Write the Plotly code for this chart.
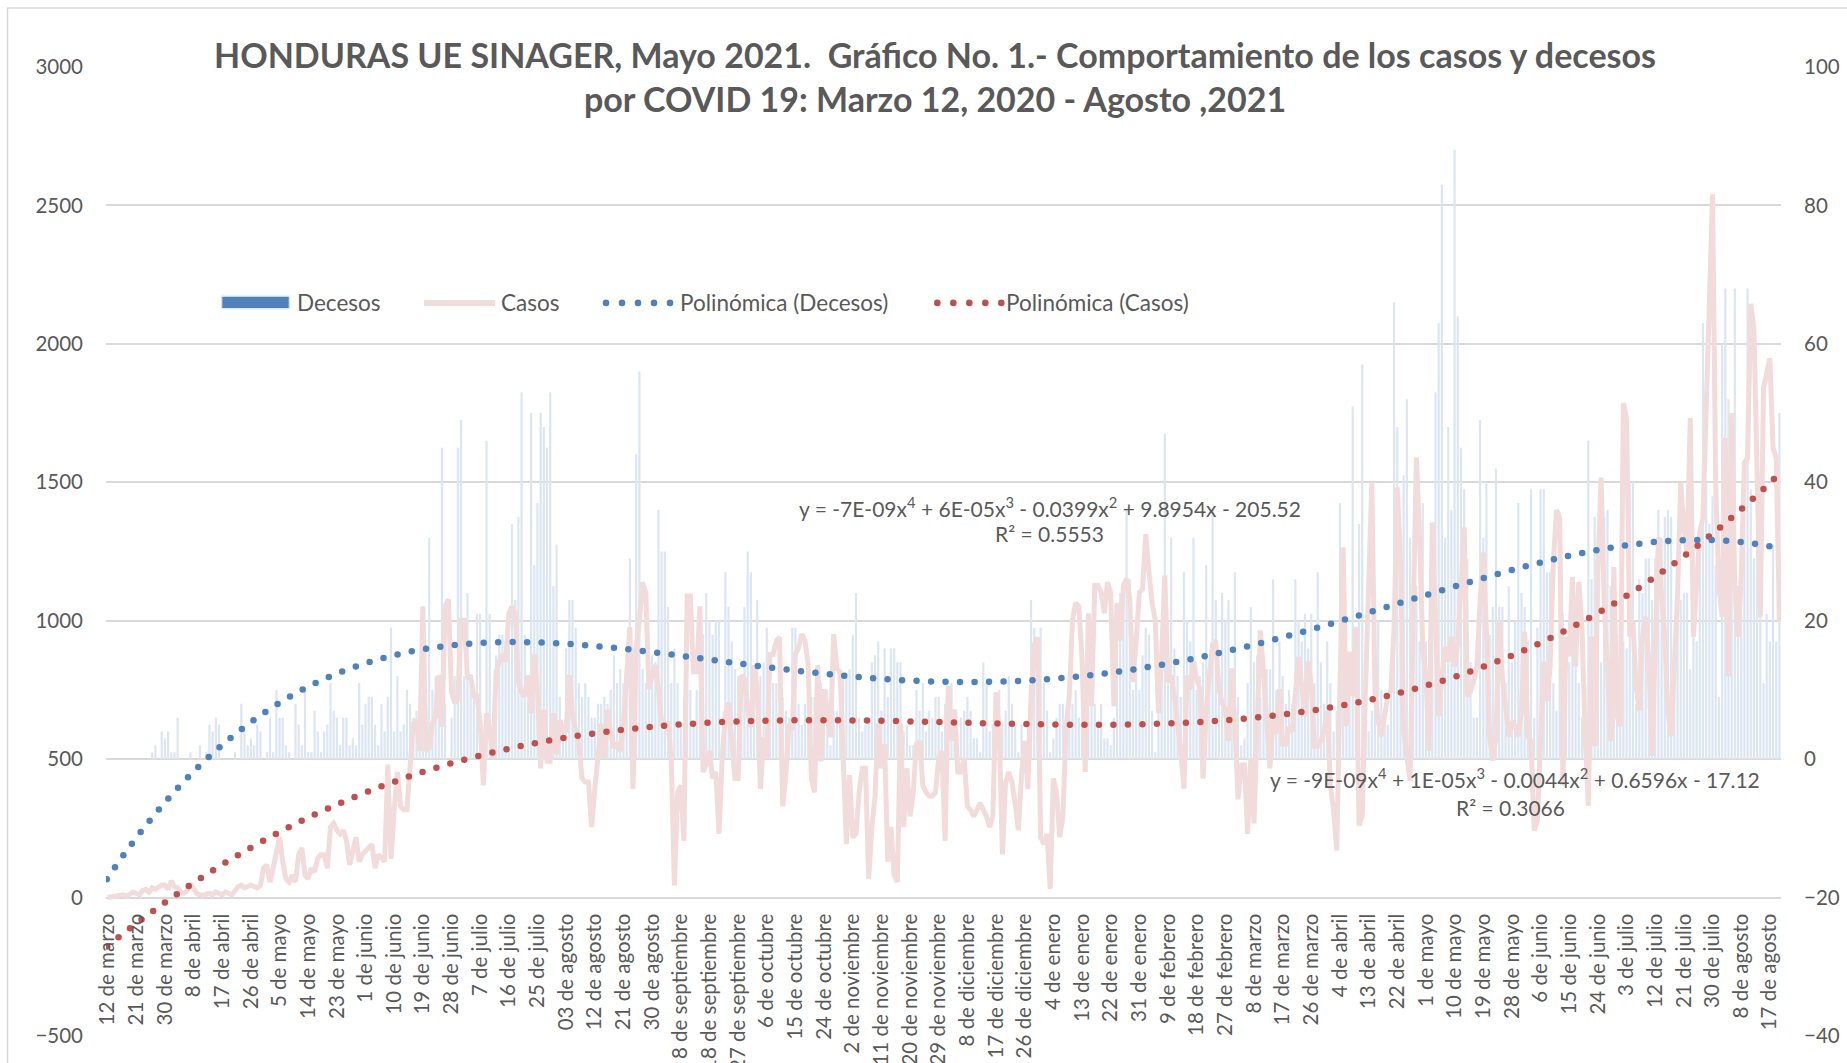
import numpy as np
import plotly.graph_objects as go

tick_labels = [
    "12 de marzo", "21 de marzo", "30 de marzo", "8 de abril", "17 de abril", "26 de abril",
    "5 de mayo", "14 de mayo", "23 de mayo", "1 de junio", "10 de junio", "19 de junio",
    "28 de junio", "7 de julio", "16 de julio", "25 de julio", "03 de agosto", "12 de agosto",
    "21 de agosto", "30 de agosto", "8 de septiembre", "18 de septiembre", "27 de septiembre",
    "6 de octubre", "15 de octubre", "24 de octubre", "2 de noviembre", "11 de noviembre",
    "20 de noviembre", "29 de noviembre", "8 de diciembre", "17 de diciembre", "26 de diciembre",
    "4 de enero", "13 de enero", "22 de enero", "31 de enero", "9 de febrero", "18 de febrero",
    "27 de febrero", "8 de marzo", "17 de marzo", "26 de marzo", "4 de abril", "13 de abril",
    "22 de abril", "1 de mayo", "10 de mayo", "19 de mayo", "28 de mayo", "6 de junio",
    "15 de junio", "24 de junio", "3 de julio", "12 de julio", "21 de julio", "30 de julio",
    "8 de agosto", "17 de agosto",
]

casos = [
    0, 2, 5, 3, 8, 10, 5, 12, 20, 15,
    10, 25, 30, 20, 35, 30, 40, 45, 45, 30,
    60, 40, 35, 20, 15, 25, 50, 30, 15, 10,
    8, 12, 15, 10, 20, 15, 10, 20, 15, 10,
    25, 40, 45, 35, 40, 45, 40, 35, 44, 106,
    118, 56, 106, 155, 218, 130, 68, 56, 81, 56,
    155, 180, 81, 68, 106, 93, 143, 155, 155, 106,
    255, 268, 243, 230, 243, 205, 118, 168, 218, 130,
    155, 168, 180, 193, 106, 155, 143, 130, 480, 140,
    317, 454, 330, 317, 317, 492, 629, 641, 529, 1052,
    529, 541, 629, 654, 803, 616, 1052, 1077, 741, 703,
    716, 1002, 1002, 790, 803, 728, 728, 629, 405, 666,
    604, 504, 815, 853, 878, 853, 1027, 1052, 1027, 778,
    741, 728, 803, 666, 878, 753, 467, 679, 492, 492,
    666, 517, 641, 604, 604, 803, 654, 604, 554, 430,
    417, 417, 255, 392, 504, 629, 504, 679, 591, 541,
    554, 529, 629, 778, 977, 392, 903, 1000, 1139, 1102,
    753, 803, 840, 753, 629, 629, 629, 504, 44, 381,
    405, 205, 1089, 1089, 816, 816, 1052, 454, 479, 529,
    430, 454, 230, 504, 666, 703, 579, 430, 430, 803,
    790, 679, 616, 840, 753, 392, 579, 504, 878, 878,
    928, 941, 330, 442, 629, 604, 878, 903, 952, 928,
    840, 430, 380, 840, 492, 753, 679, 579, 952, 828,
    815, 467, 193, 442, 218, 230, 380, 467, 467, 68,
    255, 367, 629, 467, 554, 130, 255, 81, 56, 629,
    255, 467, 293, 380, 554, 566, 405, 380, 367, 367,
    380, 504, 529, 205, 766, 566, 679, 454, 454, 504,
    330, 317, 293, 317, 342, 317, 293, 255, 293, 741,
    604, 156, 417, 454, 417, 342, 243, 442, 566, 392,
    728, 915, 940, 218, 193, 230, 31, 430, 380, 218,
    293, 616, 728, 1002, 1064, 1052, 865, 454, 1027, 691,
    1127, 1127, 1102, 1027, 1139, 1102, 691, 1064, 928, 1127,
    1152, 1077, 778, 928, 1102, 1114, 1313, 1177, 1064, 1002,
    666, 878, 1164, 778, 803, 728, 641, 529, 392, 803,
    753, 853, 790, 753, 430, 679, 803, 915, 928, 753,
    703, 679, 566, 828, 629, 355, 479, 479, 230, 504,
    268, 679, 965, 815, 604, 467, 641, 591, 753, 554,
    554, 616, 600, 763, 870, 763, 655, 853, 763, 547,
    547, 565, 601, 673, 404, 314, 170, 763, 1265, 619,
    888, 727, 978, 260, 296, 745, 1200, 1499, 745, 637,
    583, 655, 727, 745, 978, 1481, 1230, 601, 512, 422,
    1014, 1589, 1301, 888, 799, 530, 1355, 942, 655, 799,
    906, 853, 942, 835, 924, 1120, 1337, 727, 745, 781,
    835, 1068, 1247, 960, 583, 494, 583, 996, 799, 691,
    583, 637, 619, 583, 673, 960, 583, 565, 242, 278,
    530, 853, 709, 835, 1212, 1400, 1373, 404, 942, 871,
    1158, 835, 1140, 978, 583, 332, 942, 547, 1176, 1517,
    1068, 763, 565, 1194, 655, 619, 1786, 1732, 942, 996,
    763, 673, 942, 1014, 853, 512, 888, 1301, 1086, 942,
    673, 583, 835, 1086, 1499, 1337, 1247, 1732, 942, 1158,
    1319, 1373, 1768, 2199, 2540, 1481, 1122, 1014, 1660, 799,
    1750, 1122, 942, 1158, 1570, 1588, 2145, 2055, 1588, 1014,
    1840, 1894, 1948, 1624, 1588, 996,
]

# days without a reported death are empty cells in the source sheet (None)
decesos = [
    None, None, None, None, None, None, None, None, None, None,
    None, None, None, None, 1, 2, None, 4, 3, 4,
    1, 1, 6, None, None, None, 1, None, None, 2,
    None, 1, 5, 4, 6, 5, None, None, None, None,
    1, None, 8, 4, 2, 3, 2, 5, 4, None,
    1, 6, 1, 10, 6, 6, 2, 1, None, 8,
    5, 2, 10, 1, 1, 7, 4, 1, 4, 5,
    11, 7, 6, 2, 6, 6, 2, 3, 2, 11,
    5, 8, 9, 9, 5, 2, 8, 4, 9, 19,
    4, 12, 4, 5, 10, 8, 6, 7, 4, 11,
    6, 32, 10, 12, 12, 45, 8, None, 6, 12,
    45, 49, 12, 24, 12, 9, 21, 21, 3, 46,
    21, 3, 15, 18, 18, 17, 18, 34, 23, 35,
    53, 18, 9, 50, 28, 37, 50, 48, 45, 53,
    25, 31, 9, 5, 16, 23, 23, 19, 11, 9,
    11, 9, 6, 6, 8, 8, 9, 8, 10, 15,
    11, 13, 11, 11, 29, 16, 44, 56, 13, 11,
    15, 15, 14, 36, 30, 30, 22, 11, 16, 11,
    5, 9, 10, 10, 5, 10, 20, 18, 24, 20,
    18, 20, 20, 2, 27, 22, 17, 13, 12, 12,
    22, 30, 27, 11, 23, 12, 14, 19, 10, 11,
    11, 10, 9, 7, 6, 19, 19, 8, 5, 8,
    6, 9, 9, 8, 11, 6, 10, 2, 7, 7,
    6, 12, 12, 13, 18, 24, 6, 4, 5, 6,
    14, 15, 17, 7, 16, 9, 16, 16, 14, 14,
    4, 5, 2, 2, 10, 7, 11, 4, 7, 6,
    9, 9, 4, 8, 3, 11, 4, 2, 6, 7,
    9, 7, 3, 3, 1, 14, 11, 4, 5, 9,
    10, 5, 7, 12, 8, 5, 1, 5, 2, 5,
    23, 19, 17, 19, 11, 7, 1, 3, 6, 8,
    8, 6, 7, 8, 10, 6, 5, 3, 7, 11,
    8, 5, 8, 3, 3, 2, 6, 19, 24, 25,
    36, 26, 10, 13, 10, 15, 19, 18, 7, 1,
    10, 17, 47, 17, 32, 16, 12, 9, 27, 20,
    17, 32, 10, 12, 14, 28, 11, 36, 23, 12,
    24, 20, 23, 13, 27, 9, 2, 3, 11, 22,
    14, 15, 9, 13, 13, 13, 26, 10, 17, 12,
    8, 10, 8, 26, 20, 17, 21, 16, 21, 11,
    27, 14, 8, 17, 11, 4, 7, 37, 26, 12,
    11, 51, 16, 34, 57, 11, 4, 7, 18, 20,
    10, 7, 5, 14, 66, 48, 17, 41, 52, 32,
    17, 25, 17, 37, 17, 9, 25, 53, 63, 83,
    32, 48, 36, 88, 64, 45, 39, 29, 14, 6,
    6, 49, 32, 40, 18, 22, 42, 22, 22, 11,
    25, 14, 20, 37, 24, 22, 17, 39, 6, 19,
    39, 39, 27, 27, 11, 7, 22, 21, 17, 14,
    25, 16, 11, 6, 11, 46, 26, 35, 23, 14,
    35, 36, 25, 25, 18, 11, 17, 16, 40, 40,
    8, 26, 24, 29, 29, 23, 29, 36, 32, 35,
    36, 35, 11, 21, 23, 24, 24, 13, 18, 17,
    31, 63, 40, 34, 38, 28, 9, 60, 68, 52,
    44, 68, 25, 29, 39, 68, 39, 29, 33, 29,
    11, 21, 17, 31, 17, 50,
]

series_names = ["Decesos", "Casos", "Polinómica (Decesos)", "Polinómica (Casos)"]
eq_casos = ["y = -7E-09x<sup>4</sup> + 6E-05x<sup>3</sup> - 0.0399x<sup>2</sup> + 9.8954x - 205.52",
            "R² = 0.5553"]
eq_decesos = ["y = -9E-09x<sup>4</sup> + 1E-05x<sup>3</sup> - 0.0044x<sup>2</sup> + 0.6596x - 17.12",
              "R² = 0.3066"]
title_lines = ["HONDURAS UE SINAGER, Mayo 2021.\u00a0 Gráfico No. 1.- Comportamiento de los casos y decesos",
               "por COVID 19: Marzo 12, 2020 - Agosto ,2021"]

# ---------------- layout geometry (pixels) ----------------
W, H = 1847, 1063
L, R, T, B = 106, 1781, 67, 1036.5
CASOS_RANGE = [-500, 3000]
DEC_RANGE = [-40, 100]

N = min(len(casos), len(decesos))
casos = casos[:N]
decesos = decesos[:N]
days = np.arange(N)


def px_to_paper(x, y):
    return (x - L) / (R - L), (B - y) / (B - T)


def fit4(values):
    # order-4 polynomial trendline on x = 1..N, skipping empty cells (as Excel does)
    xv = np.array([i + 1 for i, v in enumerate(values) if v is not None], dtype=float)
    yv = np.array([v for v in values if v is not None], dtype=float)
    return np.polyfit(xv, yv, 4)


coef_dec = fit4(decesos)
coef_cas = fit4(casos)

ppd = (R - L) / N


def dotted(coef, yrange, spacing=14.5):
    ppu = (B - T) / (yrange[1] - yrange[0])
    xs = np.linspace(-0.6, N - 0.4, 40000)
    ys = np.polyval(coef, xs + 1)
    seg = np.hypot(np.diff(xs * ppd), np.diff(ys * ppu))
    s = np.concatenate([[0], np.cumsum(seg)])
    targets = np.arange(2, s[-1], spacing)
    idx = np.searchsorted(s, targets)
    idx = idx[idx < len(xs)]
    xo, yo = xs[idx], ys[idx]
    keep = (yo >= yrange[0]) & (yo <= yrange[1])
    return xo[keep], yo[keep]


FONT = "Lato"
GREY = "#595959"
C_BAR, C_BAR_LEG = "#dce6f2", "#4f81bd"
C_CASOS = "#f2dcdb"
C_TR_DEC, C_TR_CAS = "#4f81bd", "#c0504d"

fig = go.Figure()

fig.add_trace(go.Bar(x=days, y=decesos, yaxis="y", marker=dict(color=C_BAR, line=dict(width=0)),
                     name=series_names[0], showlegend=False, hoverinfo="skip"))
fig.add_trace(go.Scatter(x=days, y=casos, yaxis="y2", mode="lines", name=series_names[1],
                         line=dict(color=C_CASOS, width=5), showlegend=False, hoverinfo="skip"))
cx, cy = dotted(coef_cas, CASOS_RANGE)
fig.add_trace(go.Scatter(x=cx, y=cy, yaxis="y2", mode="markers", name=series_names[3],
                         marker=dict(color=C_TR_CAS, size=6.5), showlegend=False, hoverinfo="skip"))
dx, dy = dotted(coef_dec, DEC_RANGE)
fig.add_trace(go.Scatter(x=dx, y=dy, yaxis="y3", mode="markers", name=series_names[2],
                         marker=dict(color=C_TR_DEC, size=6.5), showlegend=False, hoverinfo="skip"))

tickfont = dict(family=FONT, size=20.5, color=GREY)

annotations = []
shapes = []
for txt, (x, y) in zip(title_lines, [(935, 54), (935, 99)]):
    xp, yp = px_to_paper(x, y)
    annotations.append(dict(text="<b>%s</b>" % txt, x=xp, y=yp, xref="paper", yref="paper",
                            xanchor="center", yanchor="middle", showarrow=False,
                            font=dict(family=FONT, size=34, color=GREY)))
for txt, (x, y) in zip(eq_casos + eq_decesos, [(1050, 507), (1049, 534), (1515, 778), (1510, 808)]):
    xp, yp = px_to_paper(x, y)
    annotations.append(dict(text=txt, x=xp, y=yp, xref="paper", yref="paper",
                            xanchor="center", yanchor="middle", showarrow=False,
                            font=dict(family=FONT, size=21, color=GREY)))

# ---- custom legend (Excel style) ----
LEG_Y = 303
legfont = dict(family=FONT, size=22.5, color=GREY)


def leg_text(txt, x):
    xp, yp = px_to_paper(x, LEG_Y)
    annotations.append(dict(text=txt, x=xp, y=yp, xref="paper", yref="paper", xanchor="left",
                            yanchor="middle", showarrow=False, font=legfont, borderpad=0))


x0, y0 = px_to_paper(221.7, 308.7)
x1, y1 = px_to_paper(289.3, 296.3)
shapes.append(dict(type="rect", xref="paper", yref="paper", x0=x0, x1=x1, y0=y0, y1=y1,
                   fillcolor=C_BAR_LEG, line=dict(color=C_BAR, width=1.2)))
leg_text(series_names[0], 296)
x0, yl = px_to_paper(424, LEG_Y)
x1, _ = px_to_paper(495, LEG_Y)
shapes.append(dict(type="line", xref="paper", yref="paper", x0=x0, x1=x1, y0=yl, y1=yl,
                   line=dict(color=C_CASOS, width=6)))
leg_text(series_names[1], 500)
for start, col in [(606, C_TR_DEC), (937.3, C_TR_CAS)]:
    for i in range(5):
        cxp = start + i * 16
        a0, b0 = px_to_paper(cxp - 3.3, LEG_Y + 3.3)
        a1, b1 = px_to_paper(cxp + 3.3, LEG_Y - 3.3)
        shapes.append(dict(type="circle", xref="paper", yref="paper", x0=a0, x1=a1, y0=b0, y1=b1,
                           fillcolor=col, line=dict(width=0)))
leg_text(series_names[2], 679)
leg_text(series_names[3], 1005)

bx0, by1 = px_to_paper(7.5, 8)
bx1, by0 = px_to_paper(1900, 1100)
shapes.append(dict(type="rect", xref="paper", yref="paper", x0=bx0, x1=bx1, y0=by0, y1=by1,
                   line=dict(color="#d9d9d9", width=1.5), layer="below"))

fig.update_layout(
    width=W, height=H,
    margin=dict(l=L, r=W - R, t=T, b=H - B, pad=0, autoexpand=False),
    paper_bgcolor="white", plot_bgcolor="white",
    barmode="overlay", bargap=0.3,
    showlegend=False,
    xaxis=dict(range=[-0.5, N - 0.5], anchor="free",
               position=(0 - CASOS_RANGE[0]) / (CASOS_RANGE[1] - CASOS_RANGE[0]),
               tickmode="array", tickvals=[9 * i for i in range(len(tick_labels))],
               ticktext=tick_labels, tickangle=-90, showgrid=False, showline=False,
               zeroline=False, ticks="", tickfont=tickfont, ticklabelstandoff=11,
               automargin=False),
    yaxis=dict(range=DEC_RANGE, side="right", tickmode="linear", tick0=0, dtick=20,
               showgrid=True, gridcolor="#d9d9d9", gridwidth=1.6, zeroline=False,
               showline=False, ticks="", tickfont=tickfont, ticklabelstandoff=22,
               automargin=False),
    yaxis2=dict(range=CASOS_RANGE, overlaying="y", side="left", tickmode="linear", tick0=0,
                dtick=500, showgrid=False, zeroline=False, showline=False, ticks="",
                tickfont=tickfont, ticklabelstandoff=22, automargin=False),
    yaxis3=dict(range=DEC_RANGE, overlaying="y", visible=False, automargin=False),
    annotations=annotations,
    shapes=shapes,
)

fig.write_html("out.html", config={"displayModeBar": False},
               post_script="document.body.style.margin='0';document.body.style.overflow='hidden';")
